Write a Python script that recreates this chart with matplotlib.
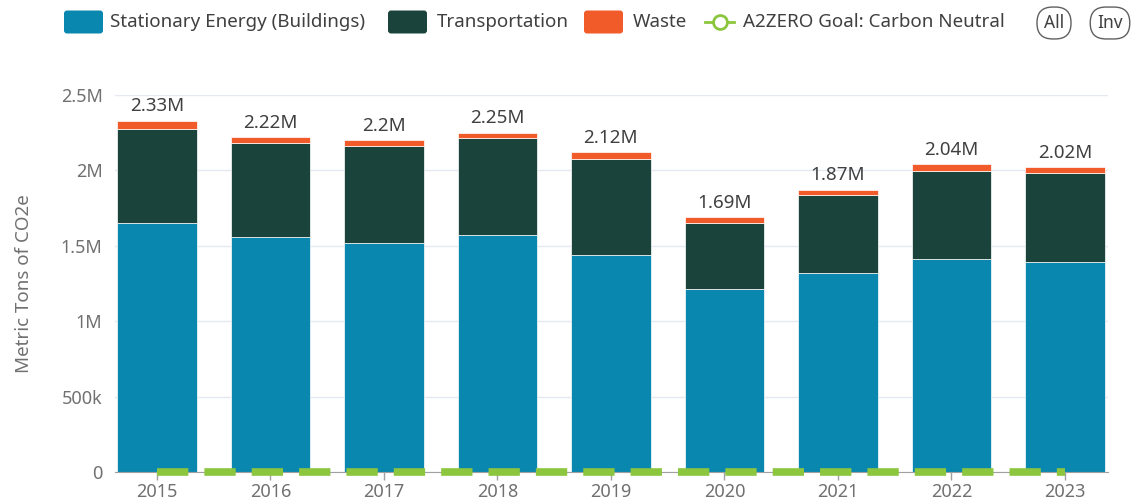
import matplotlib.pyplot as plt
import numpy as np
from matplotlib.patches import FancyBboxPatch
from matplotlib.lines import Line2D

plt.rcParams['font.family'] = ['Noto Sans', 'DejaVu Sans']

# ---- data ----
years = ['2015', '2016', '2017', '2018', '2019', '2020', '2021', '2022', '2023']
stationary = [1650000, 1556000, 1519000, 1574000, 1439000, 1214000, 1318000, 1412000, 1393000]
transport = [625000, 628000, 645000, 641000, 639000, 439000, 519000, 582000, 588000]
waste = [55000, 36000, 36000, 35000, 42000, 37000, 33000, 46000, 39000]
goal = [0, 0, 0, 0, 0, 0, 0, 0, 0]

yticks = [0, 500000, 1000000, 1500000, 2000000, 2500000]
ytick_labels = ['0', '500k', '1M', '1.5M', '2M', '2.5M']

c_stat = '#0a87ae'
c_trans = '#1a443b'
c_waste = '#f15a29'
c_goal = '#8cc63e'
txt = '#404040'
gray = '#707070'

W, H = 1140, 504
fig = plt.figure(figsize=(W / 100, H / 100), dpi=100)
ax = fig.add_axes([115 / W, 1 - 472 / H, (1108 - 115) / W, (472 - 95) / H])

x = np.arange(len(years))
bw = 0.70
stat = np.array(stationary)
tr = np.array(transport)
ws = np.array(waste)

ax.bar(x, stat, bw, color=c_stat, edgecolor='white', linewidth=0.5, zorder=2)
ax.bar(x, tr, bw, bottom=stat, color=c_trans, edgecolor='white', linewidth=0.5, zorder=2)
ax.bar(x, ws, bw, bottom=stat + tr, color=c_waste, edgecolor='white', linewidth=0.5, zorder=2)

totals = stat + tr + ws
for i, t in enumerate(totals):
    ax.annotate(f'{t / 1e6:.3g}M', (i, t), xytext=(0, 4), textcoords='offset points',
                ha='center', va='bottom', fontsize=13.5, color=txt)

# goal line (dashed, at zero)
ax.plot(x, goal, color=c_goal, lw=5.5, dashes=(4.1, 2.1), solid_capstyle='butt',
        clip_on=False, zorder=5)

ax.set_xlim(-0.37, 8.38)
ax.set_ylim(0, 2500000)
ax.set_yticks(yticks)
ax.set_yticklabels(ytick_labels)
ax.set_xticks(x)
ax.set_xticklabels(years)
ax.tick_params(axis='y', length=0, pad=9, labelsize=13, labelcolor=gray)
ax.tick_params(axis='x', length=6, width=1, color='#a0a0a0', pad=2, labelsize=13, labelcolor=gray)
ax.grid(axis='y', color='#e4e8f1', lw=1, zorder=0)
ax.set_axisbelow(True)
for s in ['top', 'right', 'left']:
    ax.spines[s].set_visible(False)
ax.spines['bottom'].set_color('#a0a0a0')
ax.spines['bottom'].set_zorder(4)
ax.set_ylabel('Metric Tons of CO2e', fontsize=13.5, color=gray)
ax.yaxis.set_label_coords(-(115 - 33) / (1108 - 115), 0.5)

# ---- legend (pixel overlay) ----
lg = fig.add_axes([0, 0, 1, 1], zorder=10)
lg.set_xlim(0, W)
lg.set_ylim(H, 0)
lg.axis('off')
lg.patch.set_alpha(0)

yc = 22
boxes = [(64, c_stat, 110, 'Stationary Energy (Buildings)'),
         (388, c_trans, 437, 'Transportation'),
         (584, c_waste, 633, 'Waste')]
for bx, col, tx, lab in boxes:
    lg.add_patch(FancyBboxPatch((bx + 3, yc - 8.5), 33, 17,
                                boxstyle='round,pad=3', fc=col, ec='none'))
    lg.text(tx, yc, lab, fontsize=13.5, color=txt, va='center', ha='left')

lg.add_line(Line2D([705, 734], [yc, yc], color=c_goal, lw=2))
lg.plot([720], [yc], marker='o', ms=10, mfc='white', mec=c_goal, mew=2)
lg.text(743, yc, 'A2ZERO Goal: Carbon Neutral', fontsize=13.5, color=txt, va='center', ha='left')

for cx, lab in [(1054, 'All'), (1110, 'Inv')]:
    lg.text(cx, yc + 1, lab, fontsize=12.5, color=txt, va='center', ha='center',
            bbox=dict(boxstyle='round,pad=0.4,rounding_size=0.9', fc='white', ec='#606060', lw=1))

fig.savefig('out.png', dpi=100)
